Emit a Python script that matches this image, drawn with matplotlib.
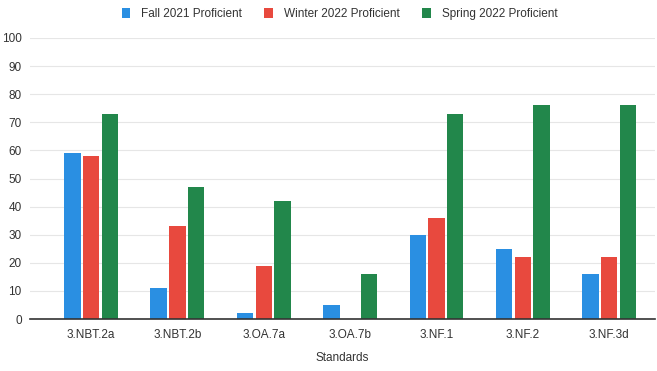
import matplotlib
matplotlib.use("Agg")
import matplotlib.pyplot as plt
import numpy as np

standards = ["3.NBT.2a", "3.NBT.2b", "3.OA.7a", "3.OA.7b", "3.NF.1", "3.NF.2", "3.NF.3d"]
fall_2021 = [59, 11, 2, 5, 30, 25, 16]
winter_2022 = [58, 33, 19, 0, 36, 22, 22]
spring_2022 = [73, 47, 42, 16, 73, 76, 76]
series_names = ["Fall 2021 Proficient", "Winter 2022 Proficient", "Spring 2022 Proficient"]
y_ticks = list(range(0, 101, 10))

colors = ["#2a8fe2", "#e8493e", "#22874b"]

plt.rcParams["font.family"] = ["Liberation Sans", "DejaVu Sans"]

fig = plt.figure(figsize=(6.57, 3.71), dpi=100)
ax = fig.add_axes([30 / 657, 1 - 319 / 371, 625 / 657, 281 / 371])

x = np.arange(len(standards))
width = 0.19
gap = 0.217
for i, (vals, name, c) in enumerate(zip([fall_2021, winter_2022, spring_2022], series_names, colors)):
    ax.bar(x + (i - 1) * gap, vals, width, color=c, label=name, zorder=3)

ax.set_ylim(0, 100)
ax.set_xlim(-0.707, 6.53)
ax.set_yticks(y_ticks)
ax.set_xticks(x)
ax.set_xticklabels(standards)
ax.tick_params(axis="both", length=0, labelsize=8.5, colors="#333333")
ax.tick_params(axis="y", pad=6)
ax.tick_params(axis="x", pad=7)
ax.grid(axis="y", color="#e6e6e6", linewidth=0.8, zorder=0)
for side in ["top", "right", "left"]:
    ax.spines[side].set_visible(False)
ax.spines["bottom"].set_color("#333333")
ax.spines["bottom"].set_linewidth(1.2)
ax.spines["bottom"].set_zorder(4)

ax.set_xlabel("Standards", fontsize=8.5, color="#333333")
ax.xaxis.set_label_coords(0.5, -39 / 281, transform=ax.transAxes)
ax.xaxis.label.set_va("center")

ax.legend(loc="upper center", bbox_to_anchor=(0.495, 1.145), ncol=3, frameon=False,
          fontsize=8.5, handlelength=0.75, handleheight=0.9, columnspacing=1.9,
          handletextpad=0.9, labelcolor="#333333")

fig.savefig("out.png", dpi=100, facecolor="white")
